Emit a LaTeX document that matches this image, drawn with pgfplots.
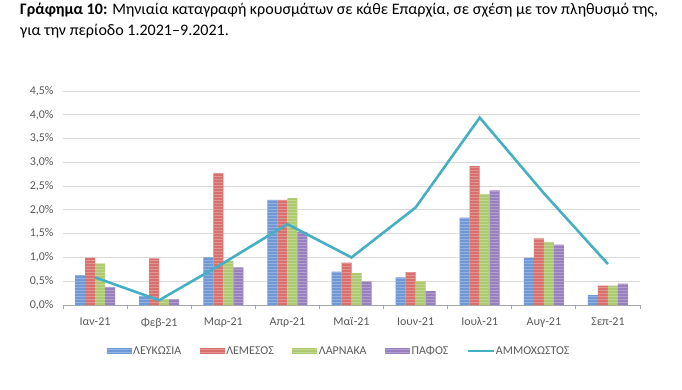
\documentclass[border=0pt]{standalone}
\usepackage{pgfplots}
\pgfplotsset{compat=1.18}
\usepackage{fontspec}
\setmainfont{Carlito}
\usetikzlibrary{patterns}
\definecolor{cblue}{HTML}{6F98D6}
\definecolor{cred}{HTML}{D9706C}
\definecolor{cgreen}{HTML}{AFC971}
\definecolor{cpurple}{HTML}{987FBF}
\definecolor{cteal}{HTML}{45AFC3}
\definecolor{tickgray}{HTML}{595959}
\definecolor{gridgray}{HTML}{D9D9D9}
\definecolor{axgray}{HTML}{A6A6A6}
\pgfplotsset{barleg/.style={legend image code/.code={\fill[##1] (0bp,-3bp) rectangle (25bp,3bp);}}}
\begin{document}
\begin{tikzpicture}[x=1bp,y=1bp]
\path[use as bounding box] (0,0) rectangle (682,389);
\node[anchor=base west,inner sep=0pt,font=\fontsize{16.1}{19}\selectfont] at (20,374.5) {\textbf{Γράφημα 10:} Μηνιαία καταγραφή κρουσμάτων σε κάθε Επαρχία, σε σχέση με τον πληθυσμό της,};
\node[anchor=base west,inner sep=0pt,font=\fontsize{16.1}{19}\selectfont] at (20,353.5) {για την περίοδο 1.2021–9.2021.};
\begin{axis}[
  at={(63bp,84bp)}, anchor=south west,
  scale only axis, width=577bp, height=214bp,
  ybar=0pt, bar width=10bp,
  xmin=-0.5, xmax=8.5, ymin=0, ymax=4.5,
  xtick={0,...,8},
  xticklabels={Ιαν-21,Φεβ-21,Μαρ-21,Απρ-21,Μαϊ-21,Ιουν-21,Ιουλ-21,Αυγ-21,Σεπ-21},
  minor xtick={-0.5,0.5,...,8.5},
  major x tick style={draw=none},
  minor x tick style={draw=axgray, line width=0.8bp},
  minor tick length=4bp,
  xtick align=outside,
  ytick={0,0.5,...,4.5},
  major y tick style={draw=none},
  ymajorgrids, grid style={gridgray, line width=0.8bp},
  axis x line*=bottom, axis y line*=left,
  x axis line style={draw=axgray, line width=1bp, -},
  y axis line style={draw=none},
  tick label style={font=\fontsize{12}{14}\selectfont, text=tickgray},
  yticklabel={\pgfmathprintnumber[fixed,fixed zerofill,precision=1,use comma]{\tick}\%},
  /pgf/number format/assume math mode=true,
  xticklabel style={yshift=-5bp},
  yticklabel style={xshift=-6bp},
  legend columns=5,
  legend style={at={(0.478,-0.215)}, anchor=center, draw=none, fill=none,
    font=\fontsize{12}{13}\selectfont, text=tickgray,
    nodes={inner xsep=1.5bp},
    /tikz/every even column/.append style={column sep=17bp}},
  legend cell align=left,
]
\addplot[barleg, fill=cblue, draw=none, postaction={pattern=horizontal lines, pattern color=white!25!cblue}] coordinates {(0,0.63) (1,0.19) (2,1.00) (3,2.21) (4,0.70) (5,0.58) (6,1.84) (7,0.99) (8,0.21)};
\addplot[barleg, fill=cred, draw=none, postaction={pattern=horizontal lines, pattern color=white!25!cred}] coordinates {(0,0.99) (1,0.98) (2,2.77) (3,2.21) (4,0.89) (5,0.69) (6,2.92) (7,1.40) (8,0.41)};
\addplot[barleg, fill=cgreen, draw=none, postaction={pattern=horizontal lines, pattern color=white!25!cgreen}] coordinates {(0,0.87) (1,0.12) (2,0.93) (3,2.25) (4,0.67) (5,0.50) (6,2.33) (7,1.33) (8,0.41)};
\addplot[barleg, fill=cpurple, draw=none, postaction={pattern=horizontal lines, pattern color=white!25!cpurple}] coordinates {(0,0.38) (1,0.12) (2,0.79) (3,1.54) (4,0.49) (5,0.29) (6,2.41) (7,1.27) (8,0.45)};
\addplot[sharp plot, draw=cteal, line width=2.6bp, mark=none,
  legend image code/.code={\draw[cteal, line width=1.5bp] (0bp,0bp) -- (26bp,0bp);}]
  coordinates {(0,0.58) (1,0.10) (2,0.88) (3,1.70) (4,1.00) (5,2.05) (6,3.94) (7,2.35) (8,0.86)};
\legend{ΛΕΥΚΩΣΙΑ,ΛΕΜΕΣΟΣ,ΛΑΡΝΑΚΑ,ΠΑΦΟΣ,ΑΜΜΟΧΩΣΤΟΣ}
\end{axis}
\end{tikzpicture}
\end{document}
